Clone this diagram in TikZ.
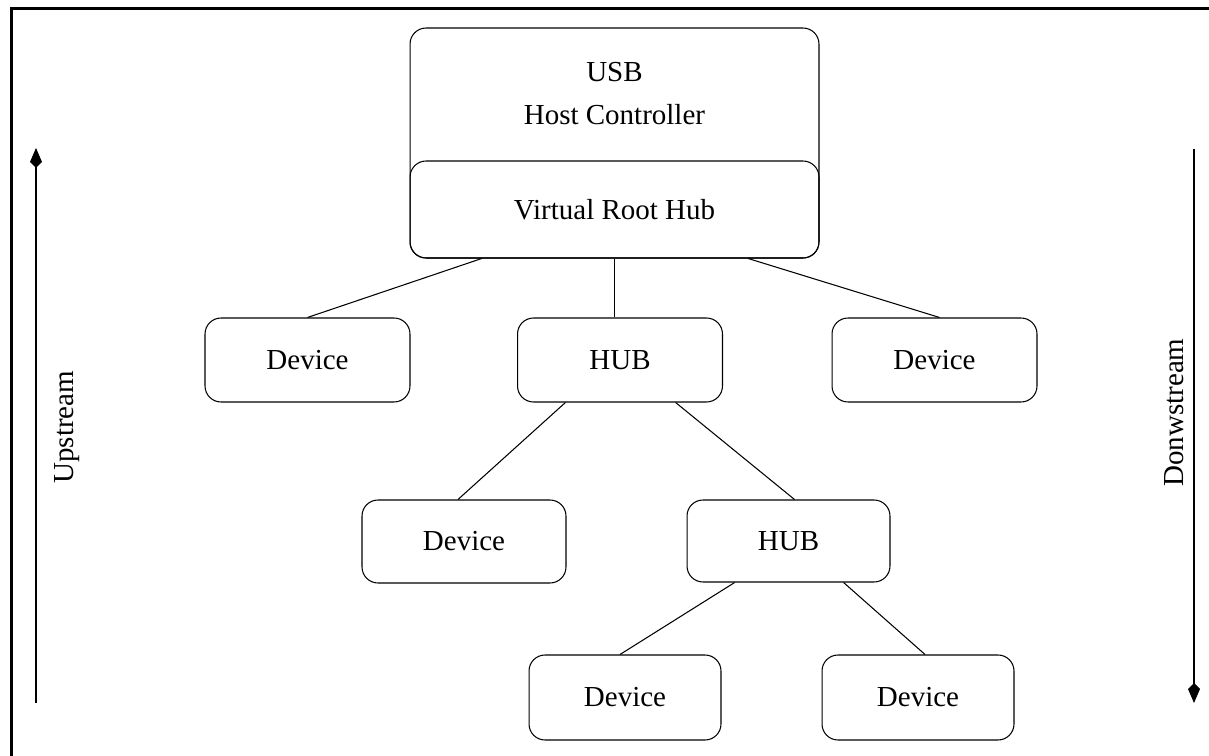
\documentclass[tikz,border=0pt]{standalone}
\usepackage{fontspec}
\setmainfont{Liberation Serif}
\usetikzlibrary{arrows.meta,positioning,calc}
\tikzset{
  every picture/.append style={font=\fontsize{16.5}{24.5}\selectfont},
  usbbox/.style={rectangle, rounded corners=0.32cm, draw=black, line width=0.6pt,
                 align=center, inner sep=0pt},
  dev/.style={usbbox, minimum width=4.1cm, minimum height=1.68cm},
  leaf/.style={usbbox, minimum width=3.84cm, minimum height=1.7cm},
  link/.style={line width=0.6pt},
  updown/.style={-{Kite[length=0.4cm,width=0.24cm,inset=0.12cm]}, line width=0.6pt},
  side/.style={rotate=90, anchor=base west, inner sep=0pt},
}
\begin{document}
\begin{tikzpicture}[x=0.02cm,y=-0.02cm]
\useasboundingbox (0,0) rectangle (1209,756);

% frame, top and left edges only
\draw[line width=1.7pt] (11.5,756) -- (11.5,8.5) -- (1209,8.5);

% ======================= host controller with its root hub =========================
\node[usbbox, minimum width=8.18cm, minimum height=4.6cm] (hc) at (614.5,143) {};
\node[align=center, inner sep=0pt] (hctxt) at (614.5,93.5) {USB\\Host Controller};
\node[usbbox, minimum width=8.18cm, minimum height=1.94cm] (vrh) at (614.5,209.5)
  {Virtual Root Hub};

% ======================= tier 1 =====================================================
\node[dev] (devA) at (307.5,360) {Device};
\node[dev] (hubA) at (620,360) {HUB};
\node[dev] (devB) at (934.5,360) {Device};

% ======================= tier 2 =====================================================
\node[dev, minimum width=4.08cm, minimum height=1.66cm] (devC) at (464,541.5) {Device};
\node[dev, minimum width=4.06cm, minimum height=1.64cm] (hubB) at (788.5,541) {HUB};

% ======================= tier 3 =====================================================
\node[leaf] (devD) at (625,697.5) {Device};
\node[leaf] (devE) at (918,697.5) {Device};

% ======================= links ======================================================
\draw[link] ($(vrh.south west)!0.176!(vrh.south east)$) -- (devA.north);
\draw[link] (vrh.south) -- (vrh.south |- hubA.north);
\draw[link] ($(vrh.south west)!0.826!(vrh.south east)$) -- ($(devB.north)+(5,0)$);
\draw[link] ($(hubA.south west)!0.235!(hubA.south east)$) -- ($(devC.north)+(-6,0)$);
\draw[link] ($(hubA.south west)!0.77!(hubA.south east)$) -- ($(hubB.north)+(6,0)$);
\draw[link] ($(hubB.south west)!0.236!(hubB.south east)$) -- ($(devD.north)+(-5,0)$);
\draw[link] ($(hubB.south west)!0.77!(hubB.south east)$) -- ($(devE.north)+(7,0)$);

% ======================= direction arrows ===========================================
\coordinate (upB) at (36,703);   \coordinate (upT) at (36,148);
\coordinate (dnT) at (1194,149); \coordinate (dnB) at (1194,703);
\draw[updown] (upB) -- (upT);
\draw[updown] (dnT) -- (dnB);
\node[side] (upL) at (73,484) {Upstream};
\node[side] (dnL) at (1183,487) {Donwstream};

\end{tikzpicture}
\end{document}
